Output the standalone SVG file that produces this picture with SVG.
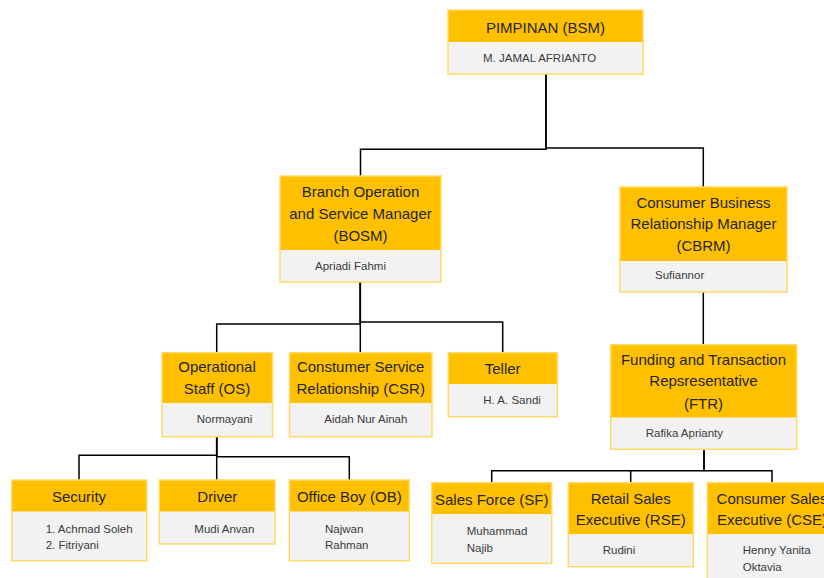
<svg xmlns="http://www.w3.org/2000/svg" width="824" height="578" viewBox="0 0 824 578">
<style>
.hd{fill:#ffc000}
.bd{fill:#f2f2f2}
.bx{fill:none;stroke:#ffd966;stroke-width:1.5}
.t{font-family:"Liberation Sans",Arial,sans-serif;font-size:15px;fill:#262626;text-anchor:middle}
.n{font-family:"Liberation Sans",Arial,sans-serif;font-size:11.5px;fill:#3a3a3a}
.c{fill:none;stroke:#000;stroke-width:1.5}
</style>
<rect width="824" height="578" fill="#fff"/>
<g id="connectors">
<path class="c" d="M546,74 V149.3 H360.5 V176"/>
<path class="c" d="M546,74 V148 H703.3 V187"/>
<path class="c" d="M360.3,282 V324 H216.7 V352.7"/>
<path class="c" d="M360.3,282 V352.7"/>
<path class="c" d="M360.3,282 V322 H502.7 V352.7"/>
<path class="c" d="M703.3,292 V344.7"/>
<path class="c" d="M216.7,437 V455.3 H79 V480"/>
<path class="c" d="M216.7,437 V480"/>
<path class="c" d="M216.7,437 V456.7 H349.3 V480"/>
<path class="c" d="M704,449.3 V470.7 H491.7 V482.7"/>
<path class="c" d="M704,449.3 V470.7 H772 V482.7"/>
<path class="c" d="M630.7,470.7 V482.7"/>
</g>
<g id="pimpinan">
<rect class="hd" x="448" y="10" width="195" height="32"/>
<rect class="bd" x="448" y="42" width="195" height="32"/>
<rect class="bx" x="448" y="10" width="195" height="64"/>
<text class="t" x="545.5" y="33">PIMPINAN (BSM)</text>
<text class="n" x="483" y="62">M. JAMAL AFRIANTO</text>
</g>
<g id="bosm">
<rect class="hd" x="280" y="176" width="161" height="74"/>
<rect class="bd" x="280" y="250" width="161" height="32"/>
<rect class="bx" x="280" y="176" width="161" height="106"/>
<text class="t" x="360.5" y="197">Branch Operation</text>
<text class="t" x="360.5" y="219">and Service Manager</text>
<text class="t" x="360.5" y="241">(BOSM)</text>
<text class="n" x="315" y="270">Apriadi Fahmi</text>
</g>
<g id="cbrm">
<rect class="hd" x="620" y="187" width="167" height="74"/>
<rect class="bd" x="620" y="261" width="167" height="31"/>
<rect class="bx" x="620" y="187" width="167" height="105"/>
<text class="t" x="703.5" y="208">Consumer Business</text>
<text class="t" x="703.5" y="229">Relationship Manager</text>
<text class="t" x="703.5" y="251">(CBRM)</text>
<text class="n" x="655" y="279">Sufiannor</text>
</g>
<g id="os">
<rect class="hd" x="162" y="352.7" width="110.5" height="50.6"/>
<rect class="bd" x="162" y="403.3" width="110.5" height="33.4"/>
<rect class="bx" x="162" y="352.7" width="110.5" height="84"/>
<text class="t" x="217" y="372">Operational</text>
<text class="t" x="217" y="393.5">Staff (OS)</text>
<text class="n" x="196.7" y="423.3">Normayani</text>
</g>
<g id="csr">
<rect class="hd" x="289.5" y="352.7" width="142.5" height="50.6"/>
<rect class="bd" x="289.5" y="403.3" width="142.5" height="33.4"/>
<rect class="bx" x="289.5" y="352.7" width="142.5" height="84"/>
<text class="t" x="360.7" y="372">Constumer Service</text>
<text class="t" x="360.7" y="393.5">Relationship (CSR)</text>
<text class="n" x="324.3" y="423.3">Aidah Nur Ainah</text>
</g>
<g id="teller">
<rect class="hd" x="448.3" y="352.7" width="109" height="31.6"/>
<rect class="bd" x="448.3" y="384.3" width="109" height="32.4"/>
<rect class="bx" x="448.3" y="352.7" width="109" height="64"/>
<text class="t" x="502.7" y="373.5">Teller</text>
<text class="n" x="483.3" y="404">H. A. Sandi</text>
</g>
<g id="ftr">
<rect class="hd" x="610.7" y="344.7" width="186" height="73"/>
<rect class="bd" x="610.7" y="417.7" width="186" height="31.6"/>
<rect class="bx" x="610.7" y="344.7" width="186" height="104.6"/>
<text class="t" x="703.5" y="365">Funding and Transaction</text>
<text class="t" x="703.5" y="386">Repsresentative</text>
<text class="t" x="703.5" y="408.5">(FTR)</text>
<text class="n" x="645.7" y="437.3">Rafika Aprianty</text>
</g>
<g id="security">
<rect class="hd" x="11.7" y="480" width="135" height="31.7"/>
<rect class="bd" x="11.7" y="511.7" width="135" height="49"/>
<rect class="bx" x="11.7" y="480" width="135" height="80.7"/>
<text class="t" x="79" y="502">Security</text>
<text class="n" x="45.7" y="533.3">1. Achmad Soleh</text>
<text class="n" x="45.7" y="548.5">2. Fitriyani</text>
</g>
<g id="driver">
<rect class="hd" x="159.3" y="480" width="115.7" height="31.7"/>
<rect class="bd" x="159.3" y="511.7" width="115.7" height="32.3"/>
<rect class="bx" x="159.3" y="480" width="115.7" height="64"/>
<text class="t" x="217.3" y="502">Driver</text>
<text class="n" x="194.3" y="532.5">Mudi Anvan</text>
</g>
<g id="ob">
<rect class="hd" x="289.3" y="480" width="120" height="31.7"/>
<rect class="bd" x="289.3" y="511.7" width="120" height="49"/>
<rect class="bx" x="289.3" y="480" width="120" height="80.7"/>
<text class="t" x="349.3" y="502">Office Boy (OB)</text>
<text class="n" x="325" y="533.3">Najwan</text>
<text class="n" x="325" y="548.5">Rahman</text>
</g>
<g id="sf">
<rect class="hd" x="431.7" y="482.7" width="120" height="31.6"/>
<rect class="bd" x="431.7" y="514.3" width="120" height="49"/>
<rect class="bx" x="431.7" y="482.7" width="120" height="80.6"/>
<text class="t" x="491.7" y="504.5">Sales Force (SF)</text>
<text class="n" x="466.7" y="535">Muhammad</text>
<text class="n" x="466.7" y="551.7">Najib</text>
</g>
<g id="rse">
<rect class="hd" x="568.3" y="482.7" width="125" height="51.6"/>
<rect class="bd" x="568.3" y="534.3" width="125" height="32.4"/>
<rect class="bx" x="568.3" y="482.7" width="125" height="84"/>
<text class="t" x="630.7" y="503.5">Retail Sales</text>
<text class="t" x="630.7" y="524.5">Executive (RSE)</text>
<text class="n" x="602.7" y="554.3">Rudini</text>
</g>
<g id="cse">
<rect class="hd" x="707.3" y="482.7" width="130" height="51.6"/>
<rect class="bd" x="707.3" y="534.3" width="130" height="50"/>
<rect class="bx" x="707.3" y="482.7" width="130" height="101.6"/>
<text class="t" x="772" y="503.5">Consumer Sales</text>
<text class="t" x="772" y="524.5">Executive (CSE)</text>
<text class="n" x="742.7" y="554.3">Henny Yanita</text>
<text class="n" x="742.7" y="570.7">Oktavia</text>
</g>
</svg>
